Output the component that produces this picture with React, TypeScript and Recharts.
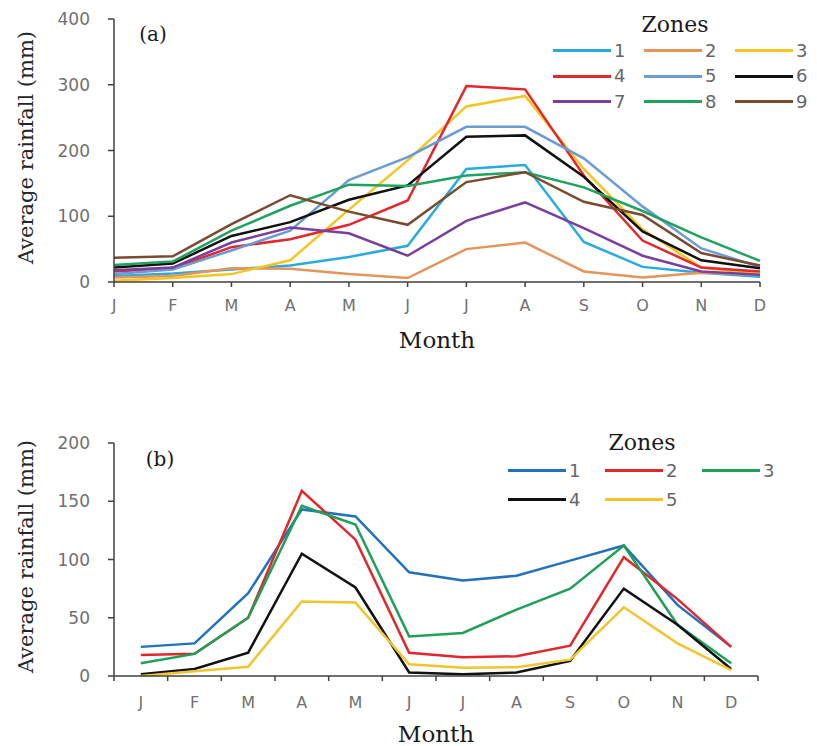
import React from "react";
import { LineChart, Line, XAxis, YAxis, Legend, Label } from "recharts";

const MONTH_KEYS = ["Jan", "Feb", "Mar", "Apr", "May", "Jun", "Jul", "Aug", "Sep", "Oct", "Nov", "Dec"];
const MONTH_LABELS = ["J", "F", "M", "A", "M", "J", "J", "A", "S", "O", "N", "D"];

// panel (a): average rainfall (mm) for nine zones
const A_ZONE1 = [9, 13, 19, 25, 38, 55, 172, 178, 61, 23, 14, 8];
const A_ZONE2 = [7, 9, 21, 20, 12, 6, 50, 60, 16, 7, 14, 11];
const A_ZONE3 = [2, 6, 12, 33, 110, 185, 267, 283, 172, 80, 22, 12];
const A_ZONE4 = [16, 21, 53, 65, 87, 124, 298, 293, 162, 63, 22, 16];
const A_ZONE5 = [12, 19, 48, 78, 155, 190, 236, 236, 188, 115, 51, 23];
const A_ZONE6 = [22, 28, 70, 91, 125, 147, 221, 223, 160, 77, 33, 21];
const A_ZONE7 = [18, 22, 60, 83, 74, 40, 93, 121, 82, 40, 16, 11];
const A_ZONE8 = [26, 31, 78, 116, 148, 146, 162, 167, 144, 108, 68, 32];
const A_ZONE9 = [37, 39, 88, 132, 107, 87, 152, 167, 122, 102, 44, 25];
const A_TICKS = [0, 100, 200, 300, 400];

// panel (b): average rainfall (mm) for five zones
const B_ZONE1 = [25, 28, 71, 143, 137, 89, 82, 86, 99, 112, 61, 25];
const B_ZONE2 = [18, 19, 50, 159, 117, 20, 16, 17, 26, 102, 66, 25];
const B_ZONE3 = [11, 19, 50, 146, 130, 34, 37, 57, 75, 112, 44, 11];
const B_ZONE4 = [1.5, 6, 20, 105, 76, 3, 1.5, 3, 13, 75, 44, 6];
const B_ZONE5 = [0, 4, 8, 64, 63, 10, 7, 7.5, 14, 59, 28, 5];
const B_TICKS = [0, 50, 100, 150, 200];

type Series = { name: string; values: number[]; color: string };

const A_SERIES: Series[] = [
  { name: "1", values: A_ZONE1, color: "#29abe2" },
  { name: "2", values: A_ZONE2, color: "#e6955a" },
  { name: "3", values: A_ZONE3, color: "#f5c521" },
  { name: "4", values: A_ZONE4, color: "#e5262b" },
  { name: "5", values: A_ZONE5, color: "#6a9bd5" },
  { name: "6", values: A_ZONE6, color: "#111111" },
  { name: "7", values: A_ZONE7, color: "#7a3f9d" },
  { name: "8", values: A_ZONE8, color: "#1fa35e" },
  { name: "9", values: A_ZONE9, color: "#7b4a2f" },
];

const B_SERIES: Series[] = [
  { name: "1", values: B_ZONE1, color: "#2371bd" },
  { name: "2", values: B_ZONE2, color: "#e3262a" },
  { name: "3", values: B_ZONE3, color: "#1fa058" },
  { name: "4", values: B_ZONE4, color: "#111111" },
  { name: "5", values: B_ZONE5, color: "#f2c52c" },
];

function buildRows(series: Series[]) {
  return MONTH_KEYS.map((m, i) => {
    const row: Record<string, string | number> = { month: m };
    series.forEach((s) => {
      row["z" + s.name] = s.values[i];
    });
    return row;
  });
}

const SERIF = "'DejaVu Serif', 'Liberation Serif', serif";
const SANS = "'DejaVu Sans', 'Open Sans', sans-serif";
const AXIS = "#404040";
const TICK_TEXT = "#707070";

const W = 817;
const A_H = 370;
const B_H = 366;
const B_TOP = 380;
const B_PLOT_W = 758 - 114;
const B_HALF = B_PLOT_W / 12 / 2;

function ZoneLegend(props: any) {
  const { payload = [], columns, colWidth, rowHeight, titleWidth } = props;
  return (
    <div style={{ fontFamily: SANS }}>
      <div
        style={{
          width: titleWidth,
          textAlign: "center",
          fontFamily: SERIF,
          fontSize: 22,
          height: 26,
          lineHeight: "26px",
          color: "#1a1a1a",
        }}
      >
        Zones
      </div>
      <div style={{ display: "grid", gridTemplateColumns: `repeat(${columns}, ${colWidth}px)` }}>
        {payload.map((p: any) => (
          <div key={p.value} style={{ display: "flex", alignItems: "center", height: rowHeight }}>
            <span style={{ display: "inline-block", width: 58, height: 3, background: p.color }} />
            <span style={{ marginLeft: 3, fontSize: 18, lineHeight: "18px", color: "#666" }}>{p.value}</span>
          </div>
        ))}
      </div>
    </div>
  );
}

const yTitle = (props: any) => {
  const vb = props.viewBox || {};
  const cx = 26;
  const cy = vb.y + vb.height / 2 - 3;
  return (
    <text
      x={cx}
      y={cy}
      transform={`rotate(-90 ${cx} ${cy})`}
      textAnchor="middle"
      dominantBaseline="central"
      fontFamily={SERIF}
      fontSize={21}
      fill="#262626"
    >
      Average rainfall (mm)
    </text>
  );
};

const panelTag = (tag: string, dx: number, dy: number) => (props: any) => {
  const vb = props.viewBox || {};
  return (
    <text
      x={vb.x + vb.width + dx}
      y={vb.y + dy}
      textAnchor="middle"
      dominantBaseline="central"
      fontFamily={SERIF}
      fontSize={20}
      fill="#1a1a1a"
    >
      {tag}
    </text>
  );
};

const monthTitle = (props: any) => {
  const vb = props.viewBox || {};
  return (
    <text x={vb.x + vb.width / 2} y={vb.y + 66} textAnchor="middle" fontFamily={SERIF} fontSize={23} fill="#1a1a1a">
      Month
    </text>
  );
};

// ticks of panel (b) sit between the months, labels in the middle
function BandTick(props: any) {
  const { x, y, index } = props;
  return (
    <g>
      <line x1={x - B_HALF} x2={x - B_HALF} y1={y} y2={y + 5} stroke={AXIS} strokeWidth={1.5} />
      {index === MONTH_KEYS.length - 1 && (
        <line x1={x + B_HALF} x2={x + B_HALF} y1={y} y2={y + 5} stroke={AXIS} strokeWidth={1.5} />
      )}
      <text x={x} y={y + 32} textAnchor="middle" fontFamily={SANS} fontSize={16} fill={TICK_TEXT}>
        {MONTH_LABELS[index]}
      </text>
    </g>
  );
}

const tickStyle = { fontFamily: SANS, fontSize: 17, fill: TICK_TEXT };

export default function App() {
  const rowsA = buildRows(A_SERIES);
  const rowsB = buildRows(B_SERIES);

  return (
    <div style={{ position: "absolute", left: 0, top: 0, width: W, height: 746, background: "#fff" }}>
      <div style={{ position: "absolute", left: 0, top: 0 }}>
        <LineChart width={W} height={A_H} data={rowsA} margin={{ top: 19, right: 57, left: 54, bottom: 58 }}>
          <XAxis
            dataKey="month"
            height={30}
            interval={0}
            tickFormatter={(_v: any, i: number) => MONTH_LABELS[i]}
            tick={{ fontFamily: SANS, fontSize: 16, fill: TICK_TEXT }}
            tickSize={5}
            tickMargin={13}
            axisLine={{ stroke: AXIS, strokeWidth: 1.5 }}
            tickLine={{ stroke: AXIS, strokeWidth: 1.5 }}
          >
            <Label content={monthTitle} />
          </XAxis>
          <YAxis
            width={60}
            domain={[0, 400]}
            ticks={A_TICKS}
            interval={0}
            tick={tickStyle}
            tickSize={6}
            tickMargin={18}
            axisLine={{ stroke: AXIS, strokeWidth: 1.5 }}
            tickLine={{ stroke: AXIS, strokeWidth: 1.5 }}
          >
            <Label content={yTitle} />
            <Label content={panelTag("(a)", 39, 15)} />
          </YAxis>
          <Legend
            layout="horizontal"
            verticalAlign="middle"
            wrapperStyle={{ position: "absolute", left: 553, top: 12, width: 290 }}
            content={(p: any) => (
              <ZoneLegend {...p} columns={3} colWidth={91} rowHeight={25.5} titleWidth={244} />
            )}
          />
          {A_SERIES.map((s) => (
            <Line
              key={s.name}
              type="linear"
              dataKey={"z" + s.name}
              name={s.name}
              stroke={s.color}
              strokeWidth={2.5}
              dot={false}
              activeDot={false}
              isAnimationActive={false}
            />
          ))}
        </LineChart>
      </div>

      <div style={{ position: "absolute", left: 0, top: B_TOP }}>
        <LineChart width={W} height={B_H} data={rowsB} margin={{ top: 63, right: 59, left: 54, bottom: 40 }}>
          <XAxis
            dataKey="month"
            height={30}
            interval={0}
            padding={{ left: B_HALF, right: B_HALF }}
            tick={<BandTick />}
            tickSize={0}
            tickMargin={0}
            tickLine={false}
            axisLine={{ stroke: AXIS, strokeWidth: 1.5 }}
          >
            <Label content={monthTitle} />
          </XAxis>
          <YAxis
            width={60}
            domain={[0, 200]}
            ticks={B_TICKS}
            interval={0}
            tick={tickStyle}
            tickSize={6}
            tickMargin={18}
            axisLine={{ stroke: AXIS, strokeWidth: 1.5 }}
            tickLine={{ stroke: AXIS, strokeWidth: 1.5 }}
          >
            <Label content={yTitle} />
            <Label content={panelTag("(b)", 46, 16)} />
          </YAxis>
          <Legend
            layout="horizontal"
            verticalAlign="middle"
            wrapperStyle={{ position: "absolute", left: 508, top: 50, width: 300 }}
            content={(p: any) => (
              <ZoneLegend {...p} columns={3} colWidth={97} rowHeight={29} titleWidth={268} />
            )}
          />
          {B_SERIES.map((s) => (
            <Line
              key={s.name}
              type="linear"
              dataKey={"z" + s.name}
              name={s.name}
              stroke={s.color}
              strokeWidth={2.5}
              dot={false}
              activeDot={false}
              isAnimationActive={false}
            />
          ))}
        </LineChart>
      </div>
    </div>
  );
}
